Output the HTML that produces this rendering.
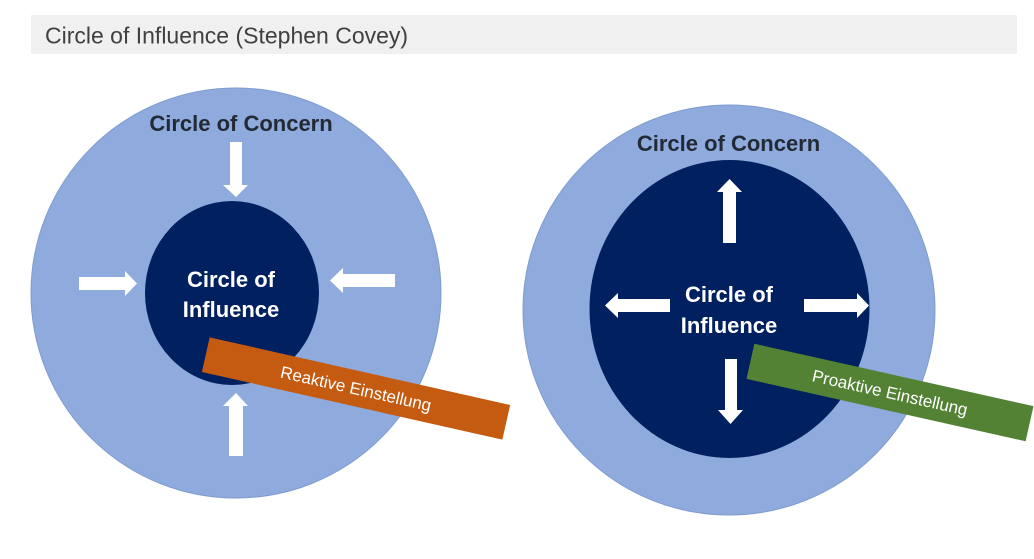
<!DOCTYPE html>
<html>
<head>
<meta charset="utf-8">
<style>
html,body{margin:0;padding:0;background:#fff;}
body{width:1034px;height:559px;overflow:hidden;}
svg{display:block;}
</style>
</head>
<body>
<svg width="1034" height="559" viewBox="0 0 1034 559" xmlns="http://www.w3.org/2000/svg">
  <rect x="0" y="0" width="1034" height="559" fill="#ffffff"/>
  <!-- title bar -->
  <rect x="31" y="15" width="986" height="39" fill="#f0f0f0"/>
  <text x="45" y="43.5" font-family="Liberation Sans, sans-serif" font-size="23" fill="#404040">Circle of Influence (Stephen Covey)</text>

  <!-- LEFT -->
  <ellipse cx="236" cy="293" rx="205" ry="205" fill="#8faadc" stroke="#7f9bd0" stroke-width="1"/>
  <ellipse cx="232" cy="293" rx="87" ry="92" fill="#002060"/>
  <text x="241" y="131" text-anchor="middle" font-family="Liberation Sans, sans-serif" font-weight="bold" font-size="22" fill="#222a35">Circle of Concern</text>
  <text x="231" y="287" text-anchor="middle" font-family="Liberation Sans, sans-serif" font-weight="bold" font-size="22" fill="#ffffff">Circle of</text>
  <text x="231" y="317" text-anchor="middle" font-family="Liberation Sans, sans-serif" font-weight="bold" font-size="22" fill="#ffffff">Influence</text>
  <!-- left arrows (white) -->
  <polygon points="230,142 242,142 242,185 248,185 236,197 223,185 230,185" fill="#ffffff"/>
  <polygon points="79,277 125,277 125,271 137,283.5 125,296 125,290 79,290" fill="#ffffff"/>
  <polygon points="395,274 343,274 343,268 330,280.5 343,293 343,287 395,287" fill="#ffffff"/>
  <polygon points="229,456 243,456 243,406 248,406 236,393 223,406 229,406" fill="#ffffff"/>
  <!-- orange banner -->
  <g transform="translate(356,388.5) rotate(12.7)">
    <rect x="-154" y="-17.75" width="308" height="35.5" fill="#c55a11"/>
    <text x="0" y="6" text-anchor="middle" font-family="Liberation Sans, sans-serif" font-size="17" fill="#ffffff">Reaktive Einstellung</text>
  </g>

  <!-- RIGHT -->
  <ellipse cx="729" cy="310" rx="206" ry="205" fill="#8faadc" stroke="#7f9bd0" stroke-width="1"/>
  <ellipse cx="729.5" cy="309" rx="140" ry="149" fill="#002060"/>
  <text x="728.5" y="151" text-anchor="middle" font-family="Liberation Sans, sans-serif" font-weight="bold" font-size="22" fill="#222a35">Circle of Concern</text>
  <text x="729" y="302" text-anchor="middle" font-family="Liberation Sans, sans-serif" font-weight="bold" font-size="22" fill="#ffffff">Circle of</text>
  <text x="729" y="333" text-anchor="middle" font-family="Liberation Sans, sans-serif" font-weight="bold" font-size="22" fill="#ffffff">Influence</text>
  <!-- right arrows -->
  <polygon points="723,243 736,243 736,192 742,192 729.5,179 717,192 723,192" fill="#ffffff"/>
  <polygon points="670,299 618,299 618,293 605,305.5 618,318 618,312 670,312" fill="#ffffff"/>
  <polygon points="804,299 857,299 857,293 869,305.5 857,318 857,312 804,312" fill="#ffffff"/>
  <polygon points="725,359 737,359 737,410 743,410 730.5,424 718,410 725,410" fill="#ffffff"/>
  <!-- green banner -->
  <g transform="translate(890,392.5) rotate(12.6)">
    <rect x="-143" y="-18" width="286" height="36" fill="#548235"/>
    <text x="0" y="6" text-anchor="middle" font-family="Liberation Sans, sans-serif" font-size="17" fill="#ffffff">Proaktive Einstellung</text>
  </g>
</svg>
</body>
</html>
